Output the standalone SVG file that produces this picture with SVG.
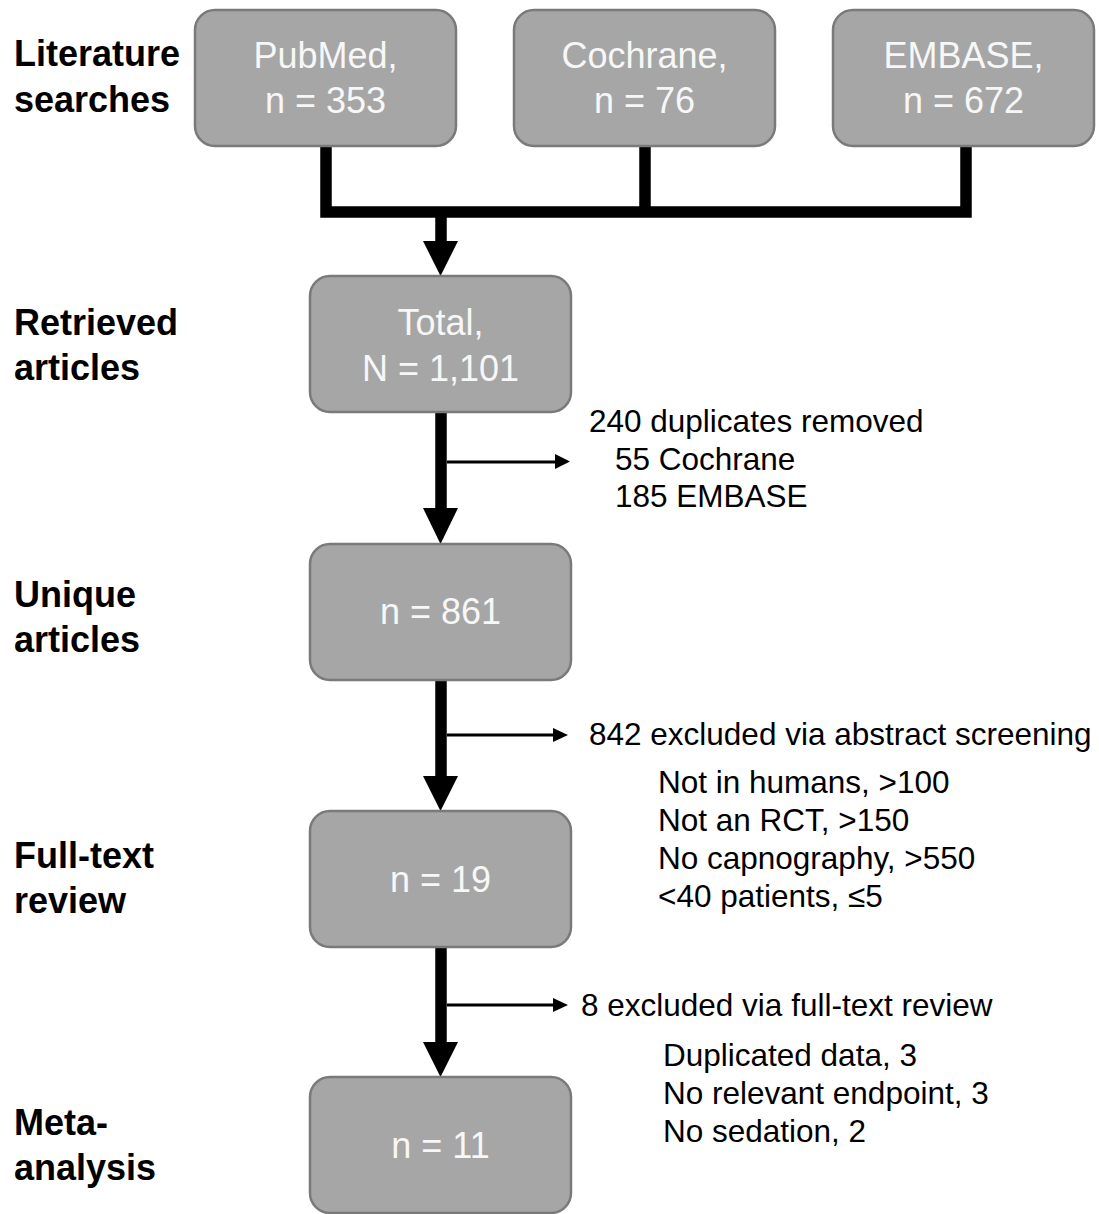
<svg xmlns="http://www.w3.org/2000/svg" width="1099" height="1214" viewBox="0 0 1099 1214">
<defs>
<style>
.box{fill:#a6a6a6;stroke:#7a7a7a;stroke-width:2.5}
.bt{font-family:"Liberation Sans",Arial,sans-serif;font-size:36px;fill:#f7f7f7;text-anchor:middle}
.lab{font-family:"Liberation Sans",Arial,sans-serif;font-size:36px;font-weight:bold;fill:#000}
.nt{font-family:"Liberation Sans",Arial,sans-serif;font-size:31.5px;fill:#000}
.thick{fill:none;stroke:#000;stroke-width:11.5;stroke-linejoin:miter;stroke-linecap:butt}
.thin{fill:none;stroke:#000;stroke-width:3}
</style>
</defs>
<rect width="1099" height="1214" fill="#fff"/>
<g id="labels">
<text class="lab" x="14" y="66">Literature</text>
<text class="lab" x="14" y="112">searches</text>
<text class="lab" x="14" y="335">Retrieved</text>
<text class="lab" x="14" y="380">articles</text>
<text class="lab" x="14" y="607">Unique</text>
<text class="lab" x="14" y="652">articles</text>
<text class="lab" x="14" y="868">Full-text</text>
<text class="lab" x="14" y="913">review</text>
<text class="lab" x="14" y="1135">Meta-</text>
<text class="lab" x="14" y="1180">analysis</text>
</g>
<g id="connectors">
<path class="thick" d="M326,146 V212 H966 V146 M645,146 V212 M441,212 V244"/>
<polygon points="423,241 458,241 440.5,276"/>
<path class="thick" d="M441,412 V510"/>
<polygon points="423,508 458,508 440.5,544"/>
<path class="thin" d="M447,462 H556"/>
<polygon points="555,454 570,461.5 555,469"/>
<path class="thick" d="M441,680 V778"/>
<polygon points="423,776 458,776 440.5,811"/>
<path class="thin" d="M447,735 H554"/>
<polygon points="553,728 568,735 553,742"/>
<path class="thick" d="M441,947 V1044"/>
<polygon points="423,1042 458,1042 440.5,1077"/>
<path class="thin" d="M447,1005 H554"/>
<polygon points="553,998 568,1005 553,1012"/>
</g>
<g id="pubmed">
<rect class="box" x="195" y="10" width="261" height="136" rx="20"/>
<text class="bt" x="325.5" y="68">PubMed,</text>
<text class="bt" x="325.5" y="113">n = 353</text>
</g>
<g id="cochrane">
<rect class="box" x="514" y="10" width="261" height="136" rx="20"/>
<text class="bt" x="644.5" y="68">Cochrane,</text>
<text class="bt" x="644.5" y="113">n = 76</text>
</g>
<g id="embase">
<rect class="box" x="833" y="10" width="261" height="136" rx="20"/>
<text class="bt" x="963.5" y="68">EMBASE,</text>
<text class="bt" x="963.5" y="113">n = 672</text>
</g>
<g id="total">
<rect class="box" x="310" y="276" width="261" height="136" rx="20"/>
<text class="bt" x="440.5" y="335">Total,</text>
<text class="bt" x="440.5" y="381">N = 1,101</text>
</g>
<g id="unique">
<rect class="box" x="310" y="544" width="261" height="136" rx="20"/>
<text class="bt" x="440.5" y="624">n = 861</text>
</g>
<g id="fulltext">
<rect class="box" x="310" y="811" width="261" height="136" rx="20"/>
<text class="bt" x="440.5" y="892">n = 19</text>
</g>
<g id="meta">
<rect class="box" x="310" y="1077" width="261" height="136" rx="20"/>
<text class="bt" x="440.5" y="1158">n = 11</text>
</g>
<g id="notes">
<text class="nt" x="589" y="432">240 duplicates removed</text>
<text class="nt" x="615" y="470">55 Cochrane</text>
<text class="nt" x="615" y="507">185 EMBASE</text>
<text class="nt" x="589" y="745">842 excluded via abstract screening</text>
<text class="nt" x="658" y="793">Not in humans, &gt;100</text>
<text class="nt" x="658" y="831">Not an RCT, &gt;150</text>
<text class="nt" x="658" y="869">No capnography, &gt;550</text>
<text class="nt" x="658" y="907">&lt;40 patients, ≤5</text>
<text class="nt" x="581" y="1016">8 excluded via full-text review</text>
<text class="nt" x="663" y="1066">Duplicated data, 3</text>
<text class="nt" x="663" y="1104">No relevant endpoint, 3</text>
<text class="nt" x="663" y="1142">No sedation, 2</text>
</g>
</svg>
